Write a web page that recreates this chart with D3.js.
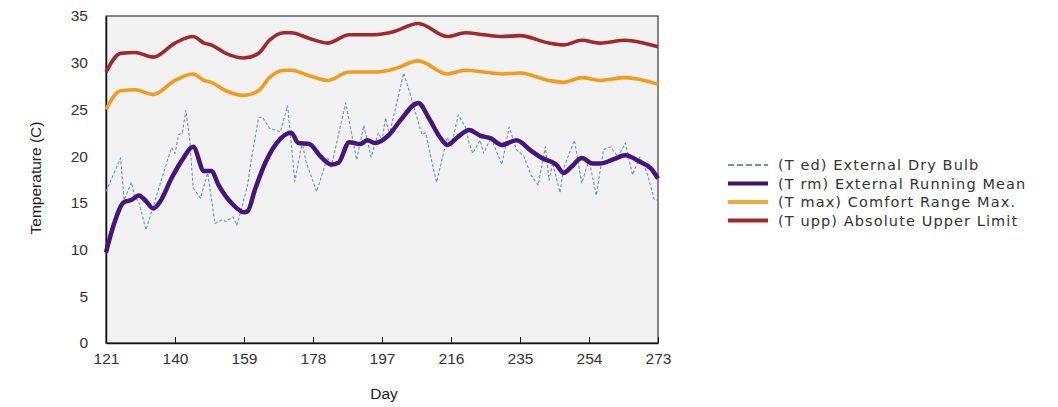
<!DOCTYPE html>
<html lang="en">
<head>
    <meta charset="UTF-8">
    <script src="https://d3js.org/d3.v7.min.js"></script>
    <title>temperature</title>
    <style>
        body { margin: 0; background: #fff; }
    </style>
</head>
<body>
    <script>
        // days of the year and temperatures
        const xTicks = [121, 140, 159, 178, 197, 216, 235, 254, 273];
        const yTicks = [0, 5, 10, 15, 20, 25, 30, 35];

        // (T ed) external dry bulb
        const edDays = [121, 125, 126, 128, 129, 130, 132, 134, 139, 140, 141, 142, 143, 144, 145, 147, 149, 151, 153, 154, 156, 157, 158, 160, 161, 163, 164, 166, 169, 171, 173, 175, 176, 179, 182, 183, 187, 190, 192, 194, 196, 197, 198, 199, 203, 205, 208, 209, 212, 215, 216, 218, 220, 221, 222, 224, 225, 227, 230, 232, 234, 236, 238, 240, 242, 243, 244, 246, 247, 250, 252, 254, 256, 258, 260, 262, 264, 266, 268, 270, 272, 273];
        const edVals = [16.2, 19.8, 15.3, 17.2, 15.5, 15.2, 12.1, 14.6, 20.9, 20.3, 22.3, 22.5, 24.9, 22.0, 16.6, 15.5, 18.2, 12.8, 13.2, 13.0, 13.5, 12.6, 13.9, 16.9, 19.6, 24.1, 24.2, 23.0, 22.6, 25.4, 17.3, 21.5, 19.5, 16.2, 19.9, 18.8, 25.7, 19.6, 23.3, 19.9, 22.5, 21.7, 24.1, 22.3, 28.9, 26.3, 22.3, 22.5, 17.2, 22.0, 21.0, 24.4, 23.1, 21.4, 20.3, 21.7, 20.3, 22.0, 19.1, 23.1, 20.7, 20.0, 18.0, 16.9, 21.0, 17.4, 19.3, 16.1, 18.7, 21.7, 17.1, 19.6, 15.8, 20.7, 21.0, 19.9, 21.4, 18.0, 19.9, 18.2, 15.3, 15.3];

        // (T rm) external running mean
        const rmDays = [121, 123, 126, 128, 130, 132, 134, 136, 139, 142, 145, 148, 150, 152, 156, 159, 160, 162, 165, 168, 172, 174, 177, 180, 183, 185, 188, 191, 193, 195, 199, 202, 207, 210, 213, 215, 218, 221, 224, 227, 230, 234, 238, 241, 245, 247, 249, 252, 255, 257, 261, 264, 268, 271, 273];
        const rmVals = [9.7, 12.5, 15.1, 15.3, 15.8, 15.2, 14.4, 15.2, 17.6, 19.6, 21.0, 18.4, 18.4, 16.9, 14.8, 14.0, 14.1, 16.4, 19.4, 21.4, 22.5, 21.4, 21.3, 20.0, 19.1, 19.3, 21.5, 21.3, 21.7, 21.4, 22.3, 23.8, 25.7, 24.0, 22.0, 21.2, 22.1, 22.8, 22.2, 21.9, 21.2, 21.7, 20.6, 19.8, 19.1, 18.2, 18.8, 19.8, 19.2, 19.2, 19.7, 20.1, 19.4, 18.7, 17.6];

        // (T max) comfort range max and (T upp) absolute upper limit
        const limDays = [121, 125, 129, 134, 140, 145, 148, 150, 154, 159, 163, 166, 170, 172, 177, 182, 188, 195, 200, 207, 215, 220, 225, 230, 235, 243, 247, 252, 257, 264, 268, 273];
        const maxVals = [25.0, 27.0, 27.1, 26.6, 28.1, 28.8, 28.1, 27.9, 27.0, 26.5, 27.0, 28.4, 29.2, 29.2, 28.6, 28.1, 29.0, 29.0, 29.3, 30.2, 28.8, 29.2, 29.0, 28.8, 28.9, 28.1, 27.9, 28.4, 28.1, 28.4, 28.2, 27.7];
        const uppVals = [29.0, 31.0, 31.1, 30.6, 32.1, 32.8, 32.1, 31.9, 31.0, 30.5, 31.0, 32.4, 33.2, 33.2, 32.6, 32.1, 33.0, 33.0, 33.3, 34.2, 32.8, 33.2, 33.0, 32.8, 32.9, 32.1, 31.9, 32.4, 32.1, 32.4, 32.2, 31.7];

        const legendNames = ['(T ed) External Dry Bulb', '(T rm) External Running Mean', '(T max) Comfort Range Max.', '(T upp) Absolute Upper Limit'];

        let width = 1058;
        let height = 407;
        let mLeft = 106, mRight = 658, mTop = 16, mBottom = 343;

        var svg = d3.select('body')
            .append('svg')
            .attr('width', width)
            .attr('height', height)
            .style('font-family', '"Liberation Sans", Arial, sans-serif');

        let x = d3.scaleLinear().domain([121, 273]).range([mLeft, mRight]);
        let y = d3.scaleLinear().domain([0, 35]).range([mBottom, mTop]);

        // plot background and frame
        svg.append('rect')
            .attr('x', mLeft).attr('y', mTop)
            .attr('width', mRight - mLeft).attr('height', mBottom - mTop)
            .attr('fill', '#f2f2f2')
            .attr('stroke', '#3a3a3a')
            .attr('stroke-width', 1.2);

        // x axis, ticks pointing into the plot
        let xAxis = svg.append('g')
            .attr('transform', 'translate(0,' + mBottom + ')')
            .call(d3.axisBottom(x).tickValues(xTicks).tickSizeInner(-6).tickSizeOuter(0).tickPadding(10));
        xAxis.select('.domain').attr('stroke', '#111').attr('stroke-width', 1.5);
        xAxis.selectAll('line').attr('stroke', '#111');
        xAxis.selectAll('text').attr('font-size', 15.5).attr('fill', '#333');

        let yAxis = svg.append('g')
            .attr('transform', 'translate(' + mLeft + ',0)')
            .call(d3.axisLeft(y).tickValues(yTicks).tickSize(0).tickPadding(18));
        yAxis.select('.domain').attr('stroke', '#111').attr('stroke-width', 1.5);
        yAxis.selectAll('text').attr('font-size', 15.5).attr('fill', '#333');

        svg.append('text')
            .attr('transform', 'translate(41,178) rotate(-90)')
            .attr('text-anchor', 'middle')
            .attr('font-size', 15.5)
            .attr('fill', '#222')
            .text('Temperature (C)');

        svg.append('text')
            .attr('x', 384).attr('y', 399)
            .attr('text-anchor', 'middle')
            .attr('font-size', 15.5)
            .attr('fill', '#222')
            .text('Day');

        function makeLine(days, vals, curve) {
            let pts = days.map((d, i) => [d, vals[i]]);
            return d3.line()
                .x(p => x(p[0]))
                .y(p => y(p[1]))
                .curve(curve)(pts);
        }

        const series = [
            { days: limDays, vals: uppVals, color: '#a3282c', w: 3.6, dash: null, curve: d3.curveMonotoneX },
            { days: limDays, vals: maxVals, color: '#f29b1d', w: 3.6, dash: null, curve: d3.curveMonotoneX },
            { days: edDays, vals: edVals, color: '#6d8fc4', w: 1.1, dash: '3,2', curve: d3.curveLinear },
            { days: rmDays, vals: rmVals, color: '#45157f', w: 4.5, dash: null, curve: d3.curveMonotoneX }
        ];

        svg.selectAll('path.series')
            .data(series)
            .enter()
            .append('path')
            .attr('class', 'series')
            .attr('d', s => makeLine(s.days, s.vals, s.curve))
            .attr('fill', 'none')
            .attr('stroke', s => s.color)
            .attr('stroke-width', s => s.w)
            .attr('stroke-dasharray', s => s.dash)
            .attr('stroke-linejoin', 'round');

        // legend
        const legendStyle = [
            { color: '#6d8fc4', w: 2, dash: '6,3' },
            { color: '#3a1670', w: 4, dash: null },
            { color: '#f2a93b', w: 4, dash: null },
            { color: '#9c2a2e', w: 4, dash: null }
        ];
        let lg = svg.selectAll('g.legend')
            .data(legendNames)
            .enter()
            .append('g')
            .attr('class', 'legend')
            .attr('transform', (d, i) => 'translate(728,' + (165 + i * 18.5) + ')');

        lg.append('line')
            .attr('x1', 0).attr('x2', 40)
            .attr('stroke', (d, i) => legendStyle[i].color)
            .attr('stroke-width', (d, i) => legendStyle[i].w)
            .attr('stroke-dasharray', (d, i) => legendStyle[i].dash);

        lg.append('text')
            .attr('x', 50)
            .attr('dy', '0.36em')
            .attr('font-family', '"DejaVu Sans", Verdana, sans-serif')
            .attr('font-size', 14.5)
            .attr('letter-spacing', 1.1)
            .attr('fill', '#333')
            .text(d => d);
    </script>
</body>
</html>
